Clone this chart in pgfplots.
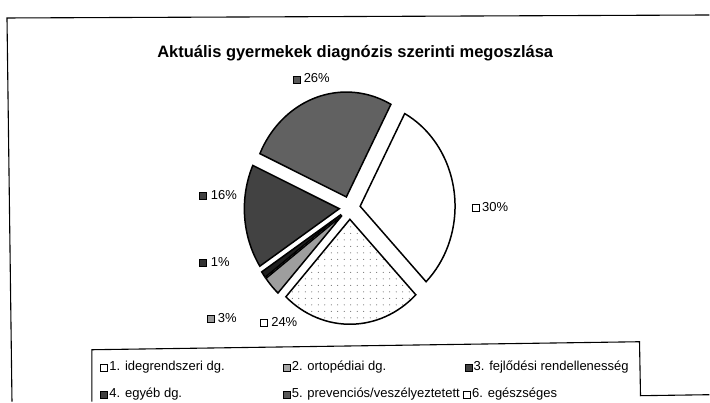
\documentclass[border=0pt]{standalone}
\usepackage{pgfplots}
\pgfplotsset{compat=1.18}
\usepackage{pgfplotstable}
\usetikzlibrary{patterns.meta}
\usepackage{fontspec}
\setmainfont{Liberation Sans}

% slice values (percent), in clockwise order starting at the top right
\pgfplotstableread{
idx value
1 30
2 24
3 3
4 1
5 16
6 26
}\piedata

\tikzset{
  sliceborder/.style={draw=black, line width=1.5bp, line join=miter},
  slice1/.style={sliceborder, fill=white},
  slice2/.style={sliceborder, pattern={Dots[distance=6.5bp, radius=0.5bp]}, pattern color=black!75},
  slice3/.style={sliceborder, fill=black!38},
  slice4/.style={sliceborder, fill=black!88},
  slice5/.style={sliceborder, fill=black!74},
  slice6/.style={sliceborder, fill=black!62},
}
\newcommand\mkbox[1]{{\setlength\fboxsep{0pt}\setlength\fboxrule{0.9bp}\fcolorbox{black}{#1}{\rule{0pt}{6bp}\rule{6bp}{0pt}}}}
\newcommand\lblfont{\fontsize{13bp}{15bp}\selectfont}

\begin{document}
\begin{tikzpicture}
\begin{axis}[
  hide axis, x=1bp, y=1bp,
  xmin=0, xmax=710, ymin=0, ymax=402,
  disabledatascaling, clip=false,
]
\path (axis cs:0,0) rectangle (axis cs:710,402);

% frames
\draw[line width=1.1bp] (axis cs:12,0) -- (axis cs:7,384) -- (axis cs:710,387);
\draw[line width=1.1bp] (axis cs:92,0) -- (axis cs:92,52) -- (axis cs:640,60) -- (axis cs:641,6) -- (axis cs:710,7);

% title
\node[anchor=base, inner sep=0] at (axis cs:355.5,344)
  {\fontsize{16.5bp}{19bp}\selectfont\bfseries Aktuális gyermekek diagnózis szerinti megoszlása};

% pie slices
\pgfmathsetmacro\cum{62}
\pgfplotsforeachungrouped \i in {0,...,5}{
  \pgfplotstablegetelem{\i}{value}\of\piedata
  \let\v\pgfplotsretval
  \pgfmathsetmacro\a{\cum}
  \pgfmathsetmacro\b{\cum-3.6*\v}
  \pgfmathsetmacro\m{(\a+\b)/2}
  \pgfmathsetmacro\ox{350+10.5*cos(\m)}
  \pgfmathsetmacro\oy{194+11.5*sin(\m)}
  \pgfmathtruncatemacro\k{\i+1}
  \edef\doslice{\noexpand\draw[slice\k] (axis cs:\ox,\oy) -- ++(\a:95bp and 105bp)
     arc[start angle=\a, end angle=\b, x radius=95bp, y radius=105bp] -- cycle;}
  \doslice
  \let\cum\b
}

% data labels
\node[anchor=base west, inner sep=0] at (axis cs:293,319) {\lblfont\mkbox{black!65}\hspace{3bp}26\%};
\node[anchor=base west, inner sep=0] at (axis cs:472,190.5) {\lblfont\mkbox{white}\hspace{2.5bp}30\%};
\node[anchor=base west, inner sep=0] at (axis cs:199,202.5) {\lblfont\mkbox{black!75}\hspace{4bp}16\%};
\node[anchor=base west, inner sep=0] at (axis cs:199,135.5) {\lblfont\mkbox{black!80}\hspace{4bp}1\%};
\node[anchor=base west, inner sep=0] at (axis cs:207,79.5) {\lblfont\mkbox{black!40}\hspace{3bp}3\%};
\node[anchor=base west, inner sep=0] at (axis cs:260,75.5) {\lblfont\mkbox{white}\hspace{3.5bp}24\%};

% legend
\node[anchor=base west, inner sep=0] at (axis cs:100,31) {\lblfont\mkbox{white}\hspace{1.5bp}1. idegrendszeri dg.};
\node[anchor=base west, inner sep=0] at (axis cs:283,31) {\lblfont\mkbox{black!35}\hspace{1bp}2. ortopédiai dg.};
\node[anchor=base west, inner sep=0] at (axis cs:465,31) {\lblfont\mkbox{black!75}\hspace{1bp}3. fejlődési rendellenesség};
\node[anchor=base west, inner sep=0] at (axis cs:100,4) {\lblfont\mkbox{black!75}\hspace{1.5bp}4. egyéb dg.};
\node[anchor=base west, inner sep=0] at (axis cs:283,4) {\lblfont\mkbox{black!65}\hspace{1bp}5. prevenciós/veszélyeztetett};
\node[anchor=base west, inner sep=0] at (axis cs:463,4) {\lblfont\mkbox{white}\hspace{1.5bp}6. egészséges};
\end{axis}
\end{tikzpicture}
\end{document}
